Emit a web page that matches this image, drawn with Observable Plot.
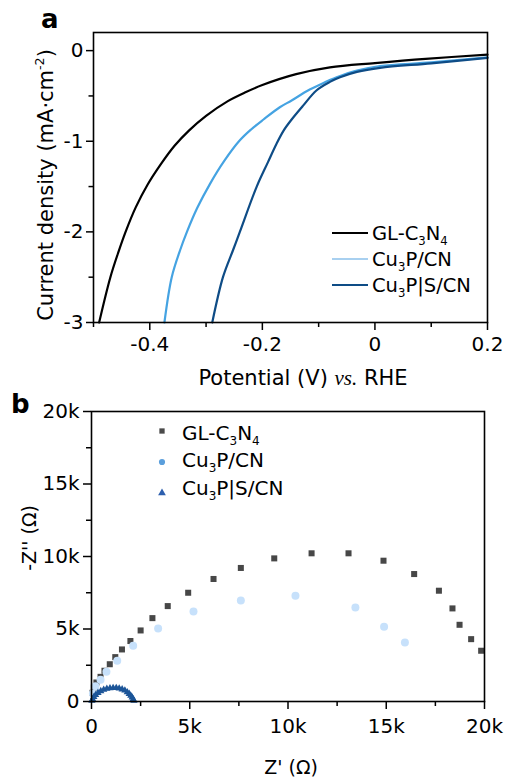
<!DOCTYPE html>
<html><head><meta charset="utf-8">
<script src="https://cdn.jsdelivr.net/npm/d3@7"></script>
<script src="https://cdn.jsdelivr.net/npm/@observablehq/plot@0.6"></script>
<style>html,body{margin:0;padding:0;background:#fff;} svg{display:block;}</style>
</head><body><div id="chart"></div>
<script>
const FONT = "'DejaVu Sans', 'Liberation Sans', sans-serif";

// ---------- Panel a : polarization curves ----------
const potentialTicks = [-0.4, -0.2, 0, 0.2];
const potentialMinor = [-0.5, -0.3, -0.1, 0.1];
const currentTicks = [0, -1, -2, -3];
const currentMinor = [-0.5, -1.5, -2.5];

const glPotential = [-0.490,-0.470,-0.455,-0.443,-0.425,-0.404,-0.380,-0.356,-0.330,-0.300,-0.262,-0.230,-0.200,-0.140,-0.080,0.000,0.090,0.200];
const glCurrent   = [-3.00,-2.50,-2.21,-2.00,-1.73,-1.48,-1.25,-1.05,-0.88,-0.72,-0.56,-0.46,-0.38,-0.26,-0.185,-0.137,-0.09,-0.045];

const cuPotential = [-0.374,-0.361,-0.346,-0.334,-0.316,-0.293,-0.268,-0.240,-0.220,-0.198,-0.169,-0.148,-0.119,-0.096,-0.068,-0.032,0.009,0.100,0.200];
const cuCurrent   = [-3.00,-2.50,-2.20,-2.00,-1.74,-1.47,-1.22,-0.99,-0.87,-0.76,-0.625,-0.55,-0.44,-0.37,-0.294,-0.22,-0.17,-0.13,-0.075];

const cusPotential = [-0.289,-0.270,-0.252,-0.240,-0.210,-0.190,-0.175,-0.162,-0.148,-0.128,-0.104,-0.080,-0.062,-0.032,0.009,0.100,0.200];
const cusCurrent   = [-3.00,-2.50,-2.20,-2.00,-1.50,-1.23,-1.03,-0.88,-0.76,-0.61,-0.44,-0.345,-0.294,-0.235,-0.19,-0.14,-0.08];

// ---------- Panel b : Nyquist plots ----------
const zTicks = [0, 5000, 10000, 15000, 20000];
const zMinor = [2500, 7500, 12500, 17500];

const glZre = [19830,19320,18730,18370,17680,16420,14860,13080,11200,9300,7600,6210,4920,3880,3100,2500,1980,1550,1210,930,660,460,250,120,50];
const glZim = [3500,4300,5290,6420,7640,8790,9710,10220,10220,9870,9210,8450,7500,6580,5750,4900,4170,3590,3060,2570,2120,1700,1310,970,600];

const cuZre = [15950,14890,13430,10380,7600,5190,3390,2120,1310,760,460,200,70];
const cuZim = [4070,5160,6490,7300,6970,6210,5040,3840,2810,2050,1500,1050,550];

const cusZre = [20,60,120,210,330,470,620,780,940,1100,1260,1410,1560,1700,1820,1920,2000,2070,2120,2160];
const cusZim = [50,160,310,460,600,720,810,880,920,940,930,900,840,760,650,530,400,280,160,60];

const seriesNames = ["GL-C3N4", "Cu3P/CN", "Cu3P|S/CN"];
const lineColors = ["#000000", "#45a3e2", "#0e4c86"];
const legendLineColors = ["#000000", "#a8d0f0", "#0e4c86"];
const dotColors = ["#474747", "#c7e1fb", "#1c5598"];
const legendDotColors = ["#4a4a4a", "#5b9fdc", "#2d5fae"];

const labelParts = [
  [["GL-C",""],["3","sub"],["N",""],["4","sub"]],
  [["Cu",""],["3","sub"],["P/CN",""]],
  [["Cu",""],["3","sub"],["P|S/CN",""]]
];

function rich(sel, parts, size) {
  let shift = 0;
  for (const [t, k] of parts) {
    const target = k === "sub" ? 0.24 * size : k === "sup" ? -0.42 * size : 0;
    const ts = sel.append("tspan").attr("dy", target - shift).text(t);
    shift = target;
    if (k === "sub" || k === "sup") ts.attr("font-size", size * 0.6);
    if (k === "it") ts.attr("font-family", "'Liberation Serif', 'DejaVu Serif', serif").attr("font-style", "italic");
  }
}

const fmtV = d => d === 0 ? "0" : d.toFixed(1);
const fmtJ = d => String(d);
const fmtZ = d => d === 0 ? "0" : (d / 1000) + "k";

function decorA() {
  const g = d3.create("svg:g").attr("font-family", FONT).attr("fill", "black").attr("text-anchor", "start");
  g.append("text").attr("x", 41).attr("y", 28).attr("font-size", 26).attr("font-weight", "bold").text("a");
  const xl = g.append("text").attr("x", 303).attr("y", 385).attr("font-size", 21).attr("text-anchor", "middle");
  rich(xl, [["Potential (V) ",""],["vs.","it"],[" RHE",""]], 21);
  const yl = g.append("text").attr("transform", "translate(53,185) rotate(-90)").attr("font-size", 21).attr("text-anchor", "middle");
  rich(yl, [["Current density (mA·cm",""],["-2","sup"],[")",""]], 21);
  const rowsY = [233, 259, 285];
  rowsY.forEach((y, i) => {
    g.append("line").attr("x1", 332).attr("x2", 368).attr("y1", y).attr("y2", y)
      .attr("stroke", legendLineColors[i]).attr("stroke-width", 2.2);
    const t = g.append("text").attr("x", 372).attr("y", y + 7).attr("font-size", 19.5).attr("text-anchor", "start");
    rich(t, labelParts[i], 19.5);
  });
  return g.node();
}

function decorB() {
  const g = d3.create("svg:g").attr("font-family", FONT).attr("fill", "black").attr("text-anchor", "start");
  g.append("text").attr("x", 11).attr("y", 21).attr("font-size", 26).attr("font-weight", "bold").text("b");
  const xl = g.append("text").attr("x", 291).attr("y", 382).attr("font-size", 19).attr("text-anchor", "middle");
  xl.text("Z' (Ω)");
  const yl = g.append("text").attr("transform", "translate(36,146) rotate(-90)").attr("font-size", 19).attr("text-anchor", "middle");
  yl.text("-Z'' (Ω)");
  const mk = [[162, 39], [162, 70], [162, 101]];
  const sym = [d3.symbolSquare, d3.symbolCircle, d3.symbolTriangle];
  const sz = [28, 30, 26];
  mk.forEach(([x, y], i) => {
    g.append("path").attr("transform", `translate(${x},${y})`)
      .attr("d", d3.symbol(sym[i], sz[i])()).attr("fill", legendDotColors[i]);
  });
  const textY = [48, 75, 103];
  textY.forEach((y, i) => {
    const t = g.append("text").attr("x", 182).attr("y", y).attr("font-size", 20).attr("text-anchor", "start");
    rich(t, labelParts[i], 20);
  });
  return g.node();
}

const common = {fontFamily: FONT, fontSize: "20px", color: "black", background: "white", overflow: "visible"};

const plotA = Plot.plot({
  width: 507, height: 392,
  marginTop: 32, marginBottom: 70, marginLeft: 93, marginRight: 20,
  style: common,
  x: {domain: [-0.5, 0.2]},
  y: {domain: [-3, 0.2]},
  marks: [
    Plot.line(glPotential, {x: glPotential, y: glCurrent, stroke: lineColors[0], strokeWidth: 2.2, curve: "catmull-rom"}),
    Plot.line(cuPotential, {x: cuPotential, y: cuCurrent, stroke: lineColors[1], strokeWidth: 2.2, curve: "catmull-rom"}),
    Plot.line(cusPotential, {x: cusPotential, y: cusCurrent, stroke: lineColors[2], strokeWidth: 2.2, curve: "catmull-rom"}),
    Plot.axisX({ticks: potentialTicks, tickSize: 8, tickPadding: 6, tickFormat: fmtV, label: null, strokeWidth: 1.5}),
    Plot.axisX({ticks: potentialMinor, tickSize: 5, tickFormat: () => "", label: null, strokeWidth: 1.5}),
    Plot.axisY({ticks: currentTicks, tickSize: 7, tickPadding: 3, tickFormat: fmtJ, label: null, strokeWidth: 1.5}),
    Plot.axisY({ticks: currentMinor, tickSize: 4.5, tickFormat: () => "", label: null, strokeWidth: 1.5}),
    Plot.frame({stroke: "black", strokeWidth: 1.6}),
    decorA
  ]
});

const plotB = Plot.plot({
  width: 507, height: 392,
  marginTop: 19, marginBottom: 83, marginLeft: 91, marginRight: 23,
  style: common,
  x: {domain: [0, 20000]},
  y: {domain: [0, 20000]},
  marks: [
    Plot.dot(glZre, {x: glZre, y: glZim, symbol: "square", fill: dotColors[0], r: 3.4}),
    Plot.dot(cuZre, {x: cuZre, y: cuZim, symbol: "circle", fill: dotColors[1], r: 4}),
    Plot.dot(cusZre, {x: cusZre, y: cusZim, symbol: "triangle", fill: dotColors[2], r: 2.7}),
    Plot.axisX({ticks: zTicks, tickSize: 8, tickPadding: 9, tickFormat: fmtZ, label: null, strokeWidth: 1.5}),
    Plot.axisX({ticks: zMinor, tickSize: 5, tickFormat: () => "", label: null, strokeWidth: 1.5}),
    Plot.axisY({ticks: zTicks, tickSize: 8, tickPadding: 4, tickFormat: fmtZ, label: null, strokeWidth: 1.5}),
    Plot.axisY({ticks: zMinor, tickSize: 5, tickFormat: () => "", label: null, strokeWidth: 1.5}),
    Plot.frame({stroke: "black", strokeWidth: 1.6}),
    decorB
  ]
});

const root = document.getElementById("chart");
root.appendChild(plotA);
root.appendChild(plotB);
</script>
</body></html>
